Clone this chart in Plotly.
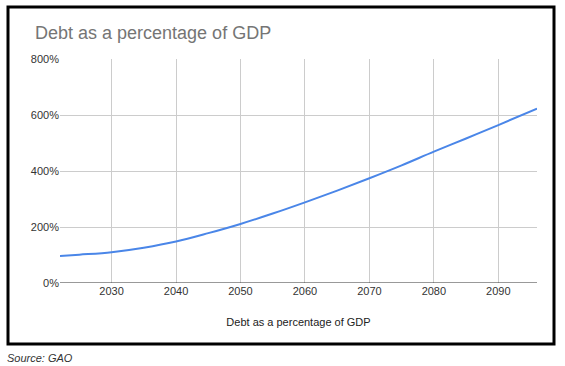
import plotly.graph_objects as go

years = [2022, 2025, 2030, 2035, 2040, 2045, 2050, 2055, 2060, 2065, 2070, 2075, 2080, 2085, 2090, 2096]
debt_pct = [96, 101, 110, 126, 148, 178, 211, 248, 288, 330, 374, 420, 469, 516, 564, 623]
x_ticks = [2030, 2040, 2050, 2060, 2070, 2080, 2090]
y_ticks = [0, 200, 400, 600, 800]
y_tick_labels = ["0%", "200%", "400%", "600%", "800%"]

W, H = 565, 366
L, R, T, B = 60, 28, 59, 83
pw, ph = W - L - R, H - T - B

def px_x(p):
    return (p - L) / pw

def px_y(p):
    return (H - B - p) / ph

fig = go.Figure()
fig.add_trace(go.Scatter(x=years, y=debt_pct, mode="lines", line=dict(color="#4a86e8", width=2, shape="spline"),
                         showlegend=False))

font = "Liberation Sans, Arial, sans-serif"
fig.update_layout(
    width=W, height=H,
    margin=dict(l=L, r=R, t=T, b=B),
    paper_bgcolor="white", plot_bgcolor="white",
    font=dict(family=font, size=11, color="#333333"),
    xaxis=dict(range=[2022, 2096], tickvals=x_ticks, showgrid=True, gridcolor="#cccccc", gridwidth=1,
               zeroline=False, showline=False, ticks="", tickfont=dict(size=11, color="#333333"),
               title=dict(text="Debt as a percentage of GDP", font=dict(size=11, color="#222222"), standoff=22)),
    yaxis=dict(range=[0, 800], tickvals=y_ticks, ticktext=y_tick_labels, showgrid=True, gridcolor="#cccccc",
               zeroline=False, showline=False, ticks="", ticklen=0, tickfont=dict(size=11, color="#333333")),
    annotations=[
        dict(text="Debt as a percentage of GDP", xref="paper", yref="paper", x=px_x(33), y=px_y(33),
             xanchor="left", yanchor="middle", showarrow=False, font=dict(size=18, color="#757575", family=font)),
        dict(text="<i>Source: GAO</i>", xref="paper", yref="paper", x=px_x(5), y=px_y(358),
             xanchor="left", yanchor="middle", showarrow=False, font=dict(size=11, color="#333333", family=font)),
    ],
    shapes=[
        dict(type="line", xref="paper", yref="y", x0=0, x1=1, y0=0, y1=0, line=dict(color="#333333", width=1)),
        dict(type="rect", xref="paper", yref="paper", x0=px_x(8), x1=px_x(554), y0=px_y(7), y1=px_y(344),
             line=dict(color="black", width=3)),
    ],
)
fig.write_html("out.html", config={"displayModeBar": False}, post_script="document.body.style.margin='0';")
